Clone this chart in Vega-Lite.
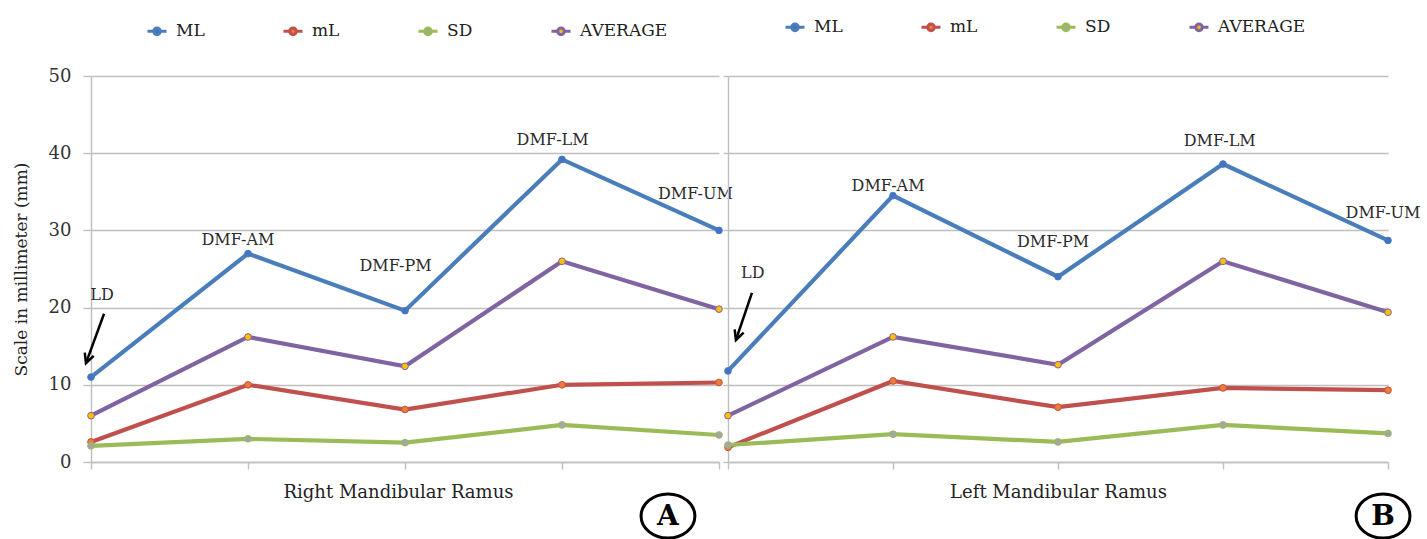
{
  "$schema": "https://vega.github.io/schema/vega-lite/v6.json",
  "background": "white",
  "padding": {"left": 12, "top": 16, "right": 5, "bottom": 0},
  "bounds": "flush",
  "spacing": 9,
  "config": {
    "font": "DejaVu Serif",
    "view": {"stroke": null},
    "axis": {
      "gridColor": "#BFBFBF", "gridWidth": 1.4, "gridOpacity": 1,
      "domainColor": "#BFBFBF", "domainWidth": 1.4,
      "tickColor": "#BFBFBF", "tickWidth": 1.4,
      "labelFont": "DejaVu Serif", "titleFont": "DejaVu Serif",
      "titleFontWeight": "normal", "labelColor": "#333333", "titleColor": "#222222"
    }
  },
  "resolve": {"scale": {"stroke": "independent", "fill": "independent", "x": "independent", "y": "independent"}},
  "datasets": {
    "series": [
      {"panel": "R", "series": "ML", "x": 0, "y": 11.0},
      {"panel": "R", "series": "ML", "x": 1, "y": 27.0},
      {"panel": "R", "series": "ML", "x": 2, "y": 19.6},
      {"panel": "R", "series": "ML", "x": 3, "y": 39.2},
      {"panel": "R", "series": "ML", "x": 4, "y": 30.0},
      {"panel": "R", "series": "mL", "x": 0, "y": 2.6},
      {"panel": "R", "series": "mL", "x": 1, "y": 10.0},
      {"panel": "R", "series": "mL", "x": 2, "y": 6.8},
      {"panel": "R", "series": "mL", "x": 3, "y": 10.0},
      {"panel": "R", "series": "mL", "x": 4, "y": 10.3},
      {"panel": "R", "series": "SD", "x": 0, "y": 2.1},
      {"panel": "R", "series": "SD", "x": 1, "y": 3.0},
      {"panel": "R", "series": "SD", "x": 2, "y": 2.5},
      {"panel": "R", "series": "SD", "x": 3, "y": 4.8},
      {"panel": "R", "series": "SD", "x": 4, "y": 3.5},
      {"panel": "R", "series": "AVERAGE", "x": 0, "y": 6.0},
      {"panel": "R", "series": "AVERAGE", "x": 1, "y": 16.2},
      {"panel": "R", "series": "AVERAGE", "x": 2, "y": 12.4},
      {"panel": "R", "series": "AVERAGE", "x": 3, "y": 26.0},
      {"panel": "R", "series": "AVERAGE", "x": 4, "y": 19.8},
      {"panel": "L", "series": "ML", "x": 0, "y": 11.8},
      {"panel": "L", "series": "ML", "x": 1, "y": 34.5},
      {"panel": "L", "series": "ML", "x": 2, "y": 24.0},
      {"panel": "L", "series": "ML", "x": 3, "y": 38.6},
      {"panel": "L", "series": "ML", "x": 4, "y": 28.7},
      {"panel": "L", "series": "mL", "x": 0, "y": 1.9},
      {"panel": "L", "series": "mL", "x": 1, "y": 10.5},
      {"panel": "L", "series": "mL", "x": 2, "y": 7.1},
      {"panel": "L", "series": "mL", "x": 3, "y": 9.6},
      {"panel": "L", "series": "mL", "x": 4, "y": 9.3},
      {"panel": "L", "series": "SD", "x": 0, "y": 2.2},
      {"panel": "L", "series": "SD", "x": 1, "y": 3.6},
      {"panel": "L", "series": "SD", "x": 2, "y": 2.6},
      {"panel": "L", "series": "SD", "x": 3, "y": 4.8},
      {"panel": "L", "series": "SD", "x": 4, "y": 3.7},
      {"panel": "L", "series": "AVERAGE", "x": 0, "y": 6.0},
      {"panel": "L", "series": "AVERAGE", "x": 1, "y": 16.2},
      {"panel": "L", "series": "AVERAGE", "x": 2, "y": 12.6},
      {"panel": "L", "series": "AVERAGE", "x": 3, "y": 26.0},
      {"panel": "L", "series": "AVERAGE", "x": 4, "y": 19.4}
    ],
    "notes": [
      {"panel": "R", "label": "LD", "x": 0.07, "y": 21.6},
      {"panel": "R", "label": "DMF-AM", "x": 0.936, "y": 28.8},
      {"panel": "R", "label": "DMF-PM", "x": 1.94, "y": 25.4},
      {"panel": "R", "label": "DMF-LM", "x": 2.94, "y": 41.7},
      {"panel": "R", "label": "DMF-UM", "x": 3.85, "y": 34.7},
      {"panel": "L", "label": "LD", "x": 0.15, "y": 24.5},
      {"panel": "L", "label": "DMF-AM", "x": 0.97, "y": 35.8},
      {"panel": "L", "label": "DMF-PM", "x": 1.97, "y": 28.5},
      {"panel": "L", "label": "DMF-LM", "x": 2.98, "y": 41.6},
      {"panel": "L", "label": "DMF-UM", "x": 3.97, "y": 32.3}
    ],
    "arrows": [
      {"panel": "R", "x": 0.083, "y": 19.2, "x2": -0.032, "y2": 12.8},
      {"panel": "L", "x": 0.145, "y": 21.9, "x2": 0.048, "y2": 15.8}
    ],
    "heads": [
      {"panel": "R", "x": -0.032, "y": 12.8},
      {"panel": "L", "x": 0.048, "y": 15.8}
    ],
    "letters": [
      {"panel": "R", "letter": "A", "x": 3.675, "y": -7.0},
      {"panel": "L", "letter": "B", "x": 3.97, "y": -7.0}
    ]
  },
  "hconcat": [
    {
      "width": 628,
      "height": 386,
      "encoding": {
        "x": {"field": "x", "type": "quantitative", "scale": {"domain": [0, 4], "nice": false, "zero": false},
              "axis": {"values": [0, 1, 2, 3, 4], "labels": false, "grid": false, "tickSize": 7, "title": "Right Mandibular Ramus", "titleFontSize": 18, "titlePadding": 14, "titleX": 307}},
        "y": {"field": "y", "type": "quantitative", "scale": {"domain": [0, 50], "nice": false, "zero": false},
              "axis": {"values": [0, 10, 20, 30, 40, 50], "grid": true, "tickSize": 8, "labelFontSize": 18, "labelPadding": 12, "title": "Scale in millimeter (mm)", "titleFontSize": 17, "titlePadding": 18}}
      },
      "layer": [
        {
          "data": {"name": "series"},
          "transform": [{"filter": "datum.panel === 'R'"}],
          "mark": {"type": "line", "strokeWidth": 4.2},
          "encoding": {
            "stroke": {"field": "series", "type": "nominal",
              "scale": {"domain": ["ML", "mL", "SD", "AVERAGE"], "range": ["#4A7EBB", "#C0504D", "#9BBB59", "#8064A2"]},
              "legend": {"orient": "none", "legendX": 55, "legendY": -56, "direction": "horizontal", "title": null,
                "symbolType": "M-1,0H-0.35M0.35,0H1M0.35,0A0.35,0.35 0 1,1 -0.35,0A0.35,0.35 0 1,1 0.35,0Z",
                "symbolSize": 361, "symbolStrokeWidth": 3, "labelFontSize": 17, "labelColor": "#222222", "columnPadding": 72, "labelOffset": 8, "symbolOpacity": 1}}
          }
        },
        {
          "data": {"name": "series"},
          "transform": [{"filter": "datum.panel === 'R'"}],
          "mark": {"type": "point", "filled": true, "size": 45, "strokeWidth": 1, "opacity": 1},
          "encoding": {
            "fill": {"field": "series", "type": "nominal",
              "scale": {"domain": ["ML", "mL", "SD", "AVERAGE"], "range": ["#4472C4", "#ED7D31", "#A5A5A5", "#FFC000"]},
              "legend": {"orient": "none", "legendX": 55, "legendY": -56, "direction": "horizontal", "title": null,
                "symbolType": "M-1,0H-0.35M0.35,0H1M0.35,0A0.35,0.35 0 1,1 -0.35,0A0.35,0.35 0 1,1 0.35,0Z",
                "symbolSize": 361, "symbolStrokeWidth": 3, "labelFontSize": 17, "labelColor": "#222222", "columnPadding": 72, "labelOffset": 8, "symbolOpacity": 1}},
            "stroke": {"field": "series", "type": "nominal",
              "scale": {"domain": ["ML", "mL", "SD", "AVERAGE"], "range": ["#4A7EBB", "#C0504D", "#9BBB59", "#8064A2"]},
              "legend": {"orient": "none", "legendX": 55, "legendY": -56, "direction": "horizontal", "title": null,
                "symbolType": "M-1,0H-0.35M0.35,0H1M0.35,0A0.35,0.35 0 1,1 -0.35,0A0.35,0.35 0 1,1 0.35,0Z",
                "symbolSize": 361, "symbolStrokeWidth": 3, "labelFontSize": 17, "labelColor": "#222222", "columnPadding": 72, "labelOffset": 8, "symbolOpacity": 1}}
          }
        },
        {
          "data": {"name": "notes"},
          "transform": [{"filter": "datum.panel === 'R'"}],
          "mark": {"type": "text", "font": "DejaVu Serif", "fontSize": 16, "color": "#2b2b2b", "align": "center", "baseline": "middle"},
          "encoding": {"text": {"field": "label"}}
        },
        {
          "data": {"name": "arrows"},
          "transform": [{"filter": "datum.panel === 'R'"}],
          "mark": {"type": "rule", "color": "black", "strokeWidth": 2.5},
          "encoding": {"x2": {"field": "x2"}, "y2": {"field": "y2"}}
        },
        {
          "data": {"name": "heads"},
          "transform": [{"filter": "datum.panel === 'R'"}],
          "mark": {"type": "point", "shape": "M-0.55,-1.1L0,0L0.55,-1.1", "filled": false, "stroke": "black", "strokeWidth": 2.5, "size": 300, "angle": 20, "opacity": 1},
          "encoding": {}
        },
        {
          "data": {"name": "letters"},
          "transform": [{"filter": "datum.panel === 'R'"}],
          "mark": {"type": "point", "shape": "M-1,0A1,0.82 0 1,0 1,0A1,0.82 0 1,0 -1,0Z", "filled": false, "stroke": "black", "strokeWidth": 3, "size": 2900, "opacity": 1},
          "encoding": {}
        },
        {
          "data": {"name": "letters"},
          "transform": [{"filter": "datum.panel === 'R'"}],
          "mark": {"type": "text", "font": "DejaVu Serif", "fontSize": 28, "fontWeight": "bold", "color": "black", "align": "center", "baseline": "middle", "dy": 1},
          "encoding": {"text": {"field": "letter"}}
        }
      ]
    },
    {
      "width": 660,
      "height": 386,
      "encoding": {
        "x": {"field": "x", "type": "quantitative", "scale": {"domain": [0, 4], "nice": false, "zero": false},
              "axis": {"values": [0, 1, 2, 3, 4], "labels": false, "grid": false, "tickSize": 7, "title": "Left Mandibular Ramus", "titleFontSize": 18, "titlePadding": 14}},
        "y": {"field": "y", "type": "quantitative", "scale": {"domain": [0, 50], "nice": false, "zero": false},
              "axis": {"values": [0, 10, 20, 30, 40, 50], "grid": true, "tickSize": 5, "labels": false, "title": null}}
      },
      "layer": [
        {
          "data": {"name": "series"},
          "transform": [{"filter": "datum.panel === 'L'"}],
          "mark": {"type": "line", "strokeWidth": 4.2},
          "encoding": {
            "stroke": {"field": "series", "type": "nominal",
              "scale": {"domain": ["ML", "mL", "SD", "AVERAGE"], "range": ["#4A7EBB", "#C0504D", "#9BBB59", "#8064A2"]},
              "legend": {"orient": "none", "legendX": 56, "legendY": -60, "direction": "horizontal", "title": null,
                "symbolType": "M-1,0H-0.35M0.35,0H1M0.35,0A0.35,0.35 0 1,1 -0.35,0A0.35,0.35 0 1,1 0.35,0Z",
                "symbolSize": 361, "symbolStrokeWidth": 3, "labelFontSize": 17, "labelColor": "#222222", "columnPadding": 72, "labelOffset": 8, "symbolOpacity": 1}}
          }
        },
        {
          "data": {"name": "series"},
          "transform": [{"filter": "datum.panel === 'L'"}],
          "mark": {"type": "point", "filled": true, "size": 45, "strokeWidth": 1, "opacity": 1},
          "encoding": {
            "fill": {"field": "series", "type": "nominal",
              "scale": {"domain": ["ML", "mL", "SD", "AVERAGE"], "range": ["#4472C4", "#ED7D31", "#A5A5A5", "#FFC000"]},
              "legend": {"orient": "none", "legendX": 56, "legendY": -60, "direction": "horizontal", "title": null,
                "symbolType": "M-1,0H-0.35M0.35,0H1M0.35,0A0.35,0.35 0 1,1 -0.35,0A0.35,0.35 0 1,1 0.35,0Z",
                "symbolSize": 361, "symbolStrokeWidth": 3, "labelFontSize": 17, "labelColor": "#222222", "columnPadding": 72, "labelOffset": 8, "symbolOpacity": 1}},
            "stroke": {"field": "series", "type": "nominal",
              "scale": {"domain": ["ML", "mL", "SD", "AVERAGE"], "range": ["#4A7EBB", "#C0504D", "#9BBB59", "#8064A2"]},
              "legend": {"orient": "none", "legendX": 56, "legendY": -60, "direction": "horizontal", "title": null,
                "symbolType": "M-1,0H-0.35M0.35,0H1M0.35,0A0.35,0.35 0 1,1 -0.35,0A0.35,0.35 0 1,1 0.35,0Z",
                "symbolSize": 361, "symbolStrokeWidth": 3, "labelFontSize": 17, "labelColor": "#222222", "columnPadding": 72, "labelOffset": 8, "symbolOpacity": 1}}
          }
        },
        {
          "data": {"name": "notes"},
          "transform": [{"filter": "datum.panel === 'L'"}],
          "mark": {"type": "text", "font": "DejaVu Serif", "fontSize": 16, "color": "#2b2b2b", "align": "center", "baseline": "middle"},
          "encoding": {"text": {"field": "label"}}
        },
        {
          "data": {"name": "arrows"},
          "transform": [{"filter": "datum.panel === 'L'"}],
          "mark": {"type": "rule", "color": "black", "strokeWidth": 2.5},
          "encoding": {"x2": {"field": "x2"}, "y2": {"field": "y2"}}
        },
        {
          "data": {"name": "heads"},
          "transform": [{"filter": "datum.panel === 'L'"}],
          "mark": {"type": "point", "shape": "M-0.55,-1.1L0,0L0.55,-1.1", "filled": false, "stroke": "black", "strokeWidth": 2.5, "size": 300, "angle": 20, "opacity": 1},
          "encoding": {}
        },
        {
          "data": {"name": "letters"},
          "transform": [{"filter": "datum.panel === 'L'"}],
          "mark": {"type": "point", "shape": "M-1,0A1,0.82 0 1,0 1,0A1,0.82 0 1,0 -1,0Z", "filled": false, "stroke": "black", "strokeWidth": 3, "size": 2900, "opacity": 1},
          "encoding": {}
        },
        {
          "data": {"name": "letters"},
          "transform": [{"filter": "datum.panel === 'L'"}],
          "mark": {"type": "text", "font": "DejaVu Serif", "fontSize": 28, "fontWeight": "bold", "color": "black", "align": "center", "baseline": "middle", "dy": 1},
          "encoding": {"text": {"field": "letter"}}
        }
      ]
    }
  ]
}
